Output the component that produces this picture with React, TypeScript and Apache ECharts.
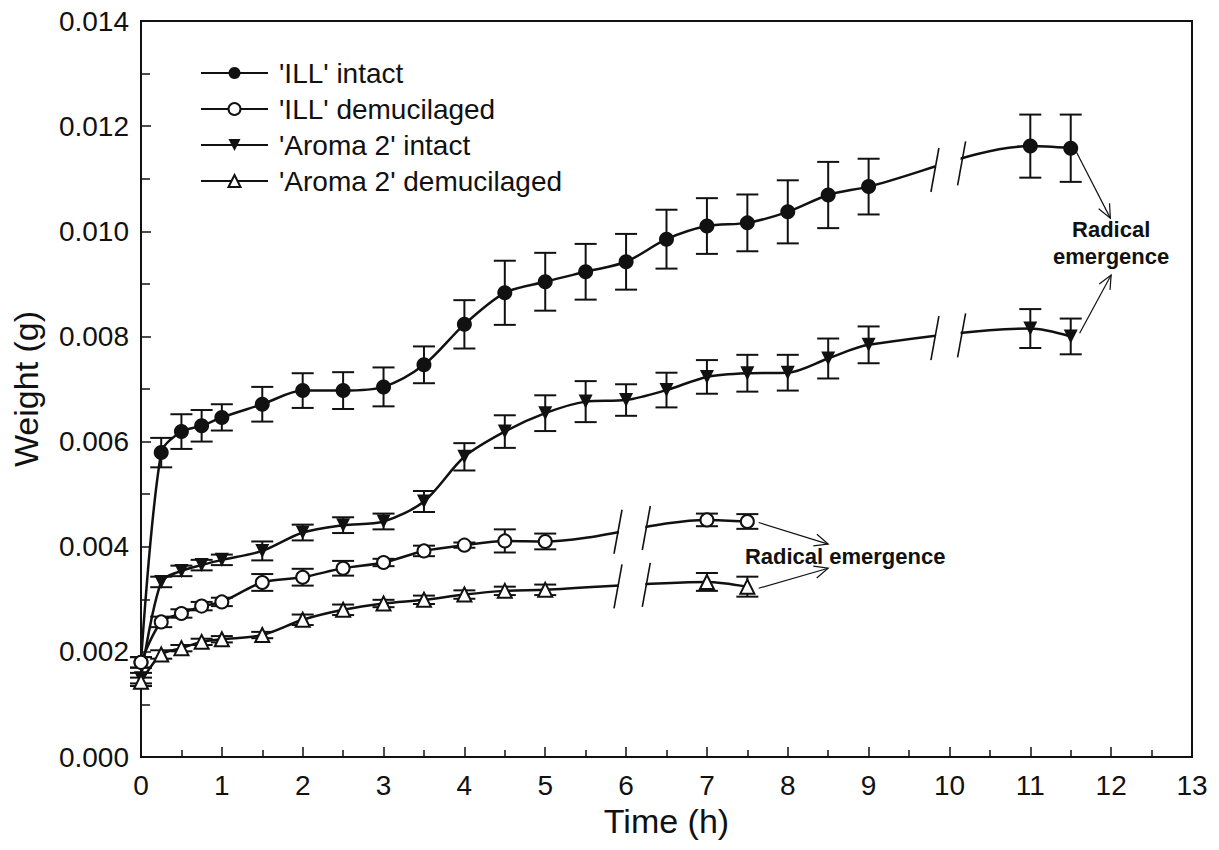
import React, { useEffect, useRef } from "react";
import * as echarts from "echarts";

// ---------- data ----------
const timesIntact = [0, 0.25, 0.5, 0.75, 1, 1.5, 2, 2.5, 3, 3.5, 4, 4.5, 5, 5.5, 6, 6.5, 7, 7.5, 8, 8.5, 9, 11, 11.5];
const timesDemuc = [0, 0.25, 0.5, 0.75, 1, 1.5, 2, 2.5, 3, 3.5, 4, 4.5, 5, 7, 7.5];

const illIntact = [0.0018, 0.00579, 0.00619, 0.0063, 0.00646, 0.00671, 0.00697, 0.00697, 0.00704, 0.00746, 0.00823, 0.00883, 0.00904, 0.00923, 0.00942, 0.00985, 0.0101, 0.01016, 0.01037, 0.01069, 0.01085, 0.01162, 0.01158];
const illIntactErr = [0.0001, 0.00028, 0.00033, 0.0003, 0.00025, 0.00033, 0.00033, 0.00035, 0.00037, 0.00035, 0.00046, 0.00061, 0.00055, 0.00053, 0.00053, 0.00056, 0.00053, 0.00054, 0.0006, 0.00063, 0.00053, 0.0006, 0.00064];

const illDemuc = [0.0018, 0.00257, 0.00273, 0.00287, 0.00295, 0.00332, 0.00342, 0.00359, 0.0037, 0.00392, 0.00403, 0.00411, 0.0041, 0.00451, 0.00448];
const illDemucErr = [0.0001, 0.0001, 0.00008, 0.00008, 0.00008, 0.00016, 0.00016, 0.00014, 0.00007, 0.0001, 0.00005, 0.00022, 0.00015, 0.00012, 0.00014];

const aromaIntact = [0.0015, 0.00333, 0.00354, 0.00365, 0.00375, 0.00392, 0.00427, 0.00441, 0.00448, 0.00486, 0.00571, 0.00619, 0.00654, 0.00676, 0.00679, 0.00698, 0.00723, 0.0073, 0.00731, 0.00758, 0.00784, 0.00815, 0.008];
const aromaIntactErr = [0.0001, 0.0001, 0.0001, 0.0001, 0.0001, 0.00018, 0.00015, 0.00015, 0.00015, 0.0002, 0.00026, 0.00031, 0.00034, 0.00039, 0.0003, 0.00033, 0.00032, 0.00035, 0.00034, 0.00038, 0.00035, 0.00037, 0.00034];

const aromaDemuc = [0.00143, 0.00195, 0.00207, 0.00219, 0.00224, 0.00232, 0.00261, 0.0028, 0.00292, 0.00299, 0.00309, 0.00316, 0.00318, 0.00333, 0.00324];
const aromaDemucErr = [0.00008, 0.00008, 0.00006, 0.00006, 0.00006, 0.00006, 0.0001, 0.0001, 0.00007, 0.00008, 0.00008, 0.00008, 0.0001, 0.00017, 0.00019];

const seriesNames = ["'ILL' intact", "'ILL' demucilaged", "'Aroma 2' intact", "'Aroma 2' demucilaged"];

// axis breaks (start, end in hours)
const intactBreak = [9.82, 10.15];
const demucBreak = [5.9, 6.25];

// annotations
const annotationLabels = ["Radical\nemergence", "Radical emergence"];
const annotationX = [12.0, 8.71];
const annotationY = [0.00978, 0.00381];
// arrows: x1, y1, x2, y2
const arrows = [
  [11.57, 0.01151, 11.99, 0.01025],
  [11.61, 0.00806, 12.0, 0.00917],
  [7.64, 0.00446, 8.5, 0.00405],
  [7.64, 0.00321, 8.5, 0.00359],
];

const xTicks = { min: 0, max: 13, interval: 1 };
const yTicks = { min: 0, max: 0.014, interval: 0.002 };

// ---------- helpers ----------
const FONT = "'Liberation Sans', Arial, Helvetica, sans-serif";

function pairs(t: number[], v: number[]) {
  return t.map((x, i) => [x, v[i]]);
}
function errData(t: number[], v: number[], e: number[]) {
  return t.map((x, i) => [x, v[i] - e[i], v[i] + e[i]]);
}
function interp(t: number[], v: number[], x: number) {
  for (let i = 0; i < t.length - 1; i++) {
    if (x >= t[i] && x <= t[i + 1]) {
      const f = (x - t[i]) / (t[i + 1] - t[i]);
      return v[i] + f * (v[i + 1] - v[i]);
    }
  }
  return v[v.length - 1];
}

function errorSeries(t: number[], v: number[], e: number[]) {
  return {
    type: "custom",
    silent: true,
    z: 2,
    data: errData(t, v, e),
    encode: { x: 0, y: [1, 2] },
    renderItem: (params: any, api: any) => {
      const x = api.value(0);
      const lo = api.coord([x, api.value(1)]);
      const hi = api.coord([x, api.value(2)]);
      const hw = 11;
      const st = { stroke: "#111", lineWidth: 2 };
      return {
        type: "group",
        children: [
          { type: "line", shape: { x1: lo[0], y1: lo[1], x2: hi[0], y2: hi[1] }, style: st },
          { type: "line", shape: { x1: lo[0] - hw, y1: lo[1], x2: lo[0] + hw, y2: lo[1] }, style: st },
          { type: "line", shape: { x1: hi[0] - hw, y1: hi[1], x2: hi[0] + hw, y2: hi[1] }, style: st },
        ],
      };
    },
  };
}

function lineSeries(name: string, t: number[], v: number[], symbol: string, size: number, rotate = 0) {
  const empty = symbol.startsWith("empty");
  return {
    type: "line",
    name,
    z: 3,
    data: pairs(t, v),
    smooth: 0.3,
    symbol,
    symbolSize: size,
    symbolRotate: rotate,
    showAllSymbol: true,
    lineStyle: { color: "#111", width: 2.5 },
    itemStyle: { color: "#111", borderColor: "#111", borderWidth: empty ? 2 : 0 },
    emphasis: { disabled: true },
  };
}

function breakSeries() {
  const breaks = [
    { t: timesIntact, v: illIntact, b: intactBreak },
    { t: timesIntact, v: aromaIntact, b: intactBreak },
    { t: timesDemuc, v: illDemuc, b: demucBreak },
    { t: timesDemuc, v: aromaDemuc, b: demucBreak },
  ];
  return {
    type: "custom",
    silent: true,
    z: 4,
    data: breaks.map((d) => [d.b[0], interp(d.t, d.v, d.b[0]), d.b[1], interp(d.t, d.v, d.b[1])]),
    encode: { x: [0, 2], y: [1, 3] },
    renderItem: (params: any, api: any) => {
      const p1 = api.coord([api.value(0), api.value(1)]);
      const p2 = api.coord([api.value(2), api.value(3)]);
      const h = 22;
      const tilt = 4;
      const st = { stroke: "#111", lineWidth: 1.6 };
      return {
        type: "group",
        children: [
          {
            type: "polygon",
            shape: { points: [[p1[0] + 1, p1[1] - 9], [p2[0] - 1, p2[1] - 9], [p2[0] - 1, p2[1] + 9], [p1[0] + 1, p1[1] + 9]] },
            style: { fill: "#fff" },
          },
          { type: "line", shape: { x1: p1[0] + tilt, y1: p1[1] - h, x2: p1[0] - tilt, y2: p1[1] + h }, style: st },
          { type: "line", shape: { x1: p2[0] + tilt, y1: p2[1] - h, x2: p2[0] - tilt, y2: p2[1] + h }, style: st },
        ],
      };
    },
  };
}

function arrowSeries() {
  return {
    type: "custom",
    silent: true,
    z: 5,
    data: arrows,
    encode: { x: [0, 2], y: [1, 3] },
    renderItem: (params: any, api: any) => {
      const p1 = api.coord([api.value(0), api.value(1)]);
      const p2 = api.coord([api.value(2), api.value(3)]);
      const ang = Math.atan2(p2[1] - p1[1], p2[0] - p1[0]);
      const L = 15;
      const sp = 0.42;
      const a = [p2[0] - L * Math.cos(ang - sp), p2[1] - L * Math.sin(ang - sp)];
      const b = [p2[0] - L * Math.cos(ang + sp), p2[1] - L * Math.sin(ang + sp)];
      const st = { stroke: "#111", lineWidth: 1.2, fill: "none" };
      return {
        type: "group",
        children: [
          { type: "line", shape: { x1: p1[0], y1: p1[1], x2: p2[0], y2: p2[1] }, style: st },
          { type: "polyline", shape: { points: [a, p2, b] }, style: st },
        ],
      };
    },
  };
}

function textSeries() {
  return {
    type: "custom",
    silent: true,
    z: 6,
    data: annotationX.map((x, i) => [x, annotationY[i]]),
    encode: { x: 0, y: 1 },
    renderItem: (params: any, api: any) => {
      const p = api.coord([api.value(0), api.value(1)]);
      return {
        type: "text",
        x: p[0],
        y: p[1],
        style: {
          text: annotationLabels[params.dataIndex],
          fontFamily: FONT,
          fontSize: 22,
          fontWeight: "bold",
          lineHeight: 27,
          fill: "#111",
          align: "center",
          verticalAlign: "middle",
        },
      };
    },
  };
}

export default function App() {
  const ref = useRef<HTMLDivElement>(null);
  useEffect(() => {
    if (!ref.current) return;
    const chart = echarts.init(ref.current, undefined, { renderer: "svg" });
    const option: any = {
      animation: false,
      backgroundColor: "#fff",
      grid: {
        left: 141,
        right: 27,
        top: 21,
        bottom: 93,
        show: true,
        borderColor: "#111",
        borderWidth: 2,
        backgroundColor: "transparent",
      },
      legend: {
        orient: "vertical",
        left: 200,
        top: 58,
        padding: 0,
        itemWidth: 67,
        itemHeight: 15,
        itemGap: 6,
        data: seriesNames,
        textStyle: { fontFamily: FONT, fontSize: 28, color: "#111", lineHeight: 30, padding: [0, 0, 0, 6] },
        selectedMode: false,
      },
      xAxis: {
        type: "value",
        min: xTicks.min,
        max: xTicks.max,
        interval: xTicks.interval,
        name: "Time (h)",
        nameLocation: "middle",
        nameGap: 43,
        nameTextStyle: { fontFamily: FONT, fontSize: 34, color: "#111" },
        axisLine: { show: true, onZero: false, lineStyle: { color: "#111", width: 2 } },
        axisTick: { show: true, inside: true, length: 10, lineStyle: { color: "#111", width: 1.5 } },
        minorTick: { show: true, splitNumber: 2, length: 7, lineStyle: { color: "#111", width: 1.5 } },
        splitLine: { show: false },
        axisLabel: { fontFamily: FONT, fontSize: 28, color: "#111", margin: 14 },
      },
      yAxis: {
        type: "value",
        min: yTicks.min,
        max: yTicks.max,
        interval: yTicks.interval,
        name: "Weight (g)",
        nameLocation: "middle",
        nameGap: 98,
        nameTextStyle: { fontFamily: FONT, fontSize: 34, color: "#111" },
        axisLine: { show: true, onZero: false, lineStyle: { color: "#111", width: 2 } },
        axisTick: { show: true, inside: true, length: 10, lineStyle: { color: "#111", width: 1.5 } },
        minorTick: { show: true, splitNumber: 2, length: 9, lineStyle: { color: "#111", width: 1.5 } },
        splitLine: { show: false },
        axisLabel: {
          fontFamily: FONT,
          fontSize: 28,
          color: "#111",
          margin: 12,
          formatter: (v: number) => v.toFixed(3),
        },
      },
      series: [
        errorSeries(timesIntact, illIntact, illIntactErr),
        errorSeries(timesDemuc, illDemuc, illDemucErr),
        errorSeries(timesIntact, aromaIntact, aromaIntactErr),
        errorSeries(timesDemuc, aromaDemuc, aromaDemucErr),
        lineSeries(seriesNames[0], timesIntact, illIntact, "circle", 15),
        lineSeries(seriesNames[1], timesDemuc, illDemuc, "emptyCircle", 13),
        lineSeries(seriesNames[2], timesIntact, aromaIntact, "triangle", 14, 180),
        lineSeries(seriesNames[3], timesDemuc, aromaDemuc, "emptyTriangle", 14),
        breakSeries(),
        arrowSeries(),
        textSeries(),
      ],
    };
    chart.setOption(option);
    return () => chart.dispose();
  }, []);
  return <div ref={ref} style={{ position: "fixed", left: 0, top: 0, width: 1219, height: 850 }} />;
}
